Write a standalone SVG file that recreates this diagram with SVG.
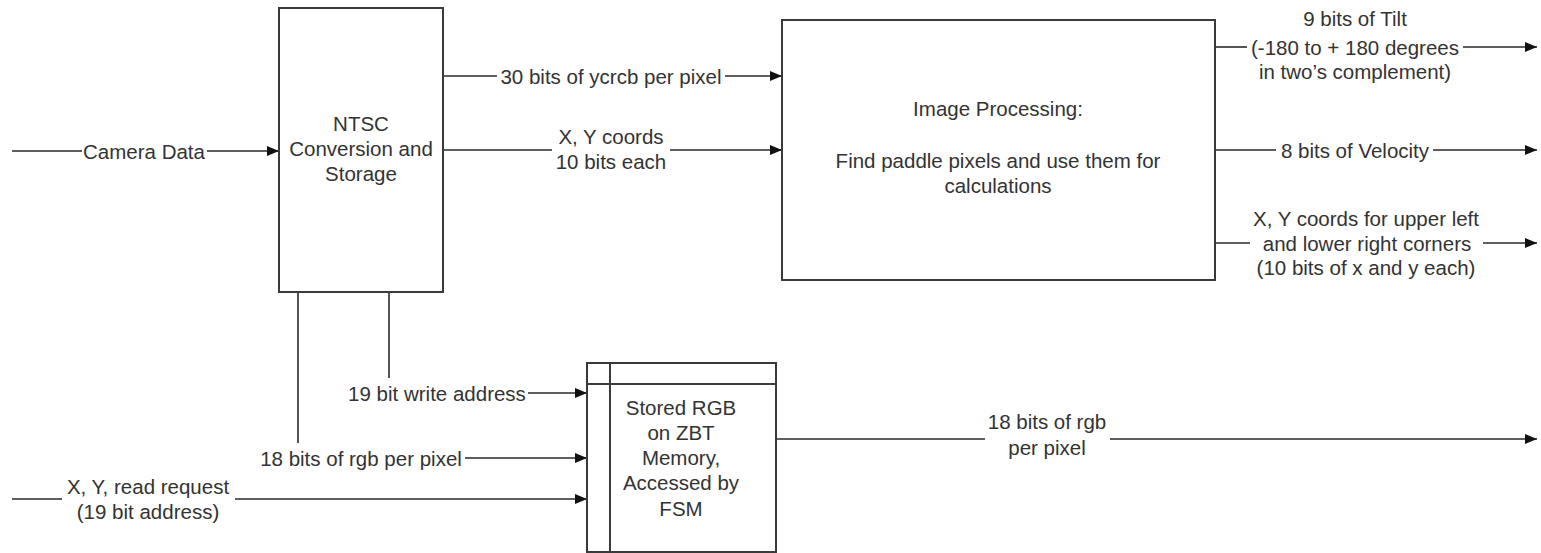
<svg xmlns="http://www.w3.org/2000/svg" width="1541" height="553" viewBox="0 0 1541 553">
<style>
.box{fill:#fff;stroke:#3a3a3a;stroke-width:2}
.ln{fill:none;stroke:#2a2a2a;stroke-width:1.6}
text{font-family:"Liberation Sans",Arial,sans-serif;font-size:20.5px;fill:#333;text-anchor:middle;dominant-baseline:central}
</style>
<defs>
<marker id="ah" viewBox="0 0 12 10" refX="12" refY="5" markerWidth="12" markerHeight="10" markerUnits="userSpaceOnUse" orient="auto">
<path d="M0,0 L12,5 L0,10 Z" fill="#111"/>
</marker>
</defs>
<rect width="1541" height="553" fill="#fff"/>
<g id="connectors">
<line class="ln" x1="12" y1="151" x2="82" y2="151"/>
<line class="ln" x1="207" y1="151" x2="279" y2="151" marker-end="url(#ah)"/>
<line class="ln" x1="443" y1="76" x2="497" y2="76"/>
<line class="ln" x1="725" y1="76" x2="782" y2="76" marker-end="url(#ah)"/>
<line class="ln" x1="443" y1="150" x2="552" y2="150"/>
<line class="ln" x1="670" y1="150" x2="782" y2="150" marker-end="url(#ah)"/>
<line class="ln" x1="1215" y1="47" x2="1247" y2="47"/>
<line class="ln" x1="1463" y1="47" x2="1537" y2="47" marker-end="url(#ah)"/>
<line class="ln" x1="1215" y1="150" x2="1276" y2="150"/>
<line class="ln" x1="1433" y1="150" x2="1537" y2="150" marker-end="url(#ah)"/>
<line class="ln" x1="1215" y1="243" x2="1250" y2="243"/>
<line class="ln" x1="1483" y1="243" x2="1537" y2="243" marker-end="url(#ah)"/>
<line class="ln" x1="389" y1="292" x2="389" y2="378"/>
<line class="ln" x1="528" y1="393" x2="587" y2="393" marker-end="url(#ah)"/>
<line class="ln" x1="298" y1="292" x2="298" y2="443"/>
<line class="ln" x1="465" y1="458" x2="587" y2="458" marker-end="url(#ah)"/>
<line class="ln" x1="12" y1="499" x2="62" y2="499"/>
<line class="ln" x1="235" y1="499" x2="587" y2="499" marker-end="url(#ah)"/>
<line class="ln" x1="776" y1="439" x2="985" y2="439"/>
<line class="ln" x1="1110" y1="439" x2="1537" y2="439" marker-end="url(#ah)"/>
<text x="144" y="151">Camera Data</text>
<text x="611" y="76">30 bits of ycrcb per pixel</text>
<text x="611" y="136">X, Y coords</text>
<text x="611" y="161">10 bits each</text>
<text x="1355" y="18">9 bits of Tilt</text>
<text x="1355" y="47">(-180 to + 180 degrees</text>
<text x="1355" y="71">in two’s complement)</text>
<text x="1355" y="150">8 bits of Velocity</text>
<text x="1366" y="218">X, Y coords for upper left</text>
<text x="1367" y="243">and lower right corners</text>
<text x="1366" y="267">(10 bits of x and y each)</text>
<text x="437" y="393">19 bit write address</text>
<text x="361" y="458">18 bits of rgb per pixel</text>
<text x="148" y="486">X, Y, read request</text>
<text x="148" y="511">(19 bit address)</text>
<text x="1047" y="421">18 bits of rgb</text>
<text x="1047" y="447">per pixel</text>
</g>
<g id="ntsc">
<rect class="box" x="279" y="8" width="164" height="284"/>
<text x="361" y="123">NTSC</text>
<text x="361" y="148">Conversion and</text>
<text x="361" y="173">Storage</text>
</g>
<g id="image-processing">
<rect class="box" x="782" y="20" width="433" height="260"/>
<text x="998" y="108">Image Processing:</text>
<text x="998" y="160">Find paddle pixels and use them for</text>
<text x="998" y="185">calculations</text>
</g>
<g id="zbt">
<rect class="box" x="587" y="363" width="189" height="189"/>
<line class="box" x1="587" y1="384" x2="776" y2="384"/>
<line class="box" x1="610" y1="363" x2="610" y2="552"/>
<text x="681" y="407">Stored RGB</text>
<text x="681" y="432">on ZBT</text>
<text x="681" y="457">Memory,</text>
<text x="681" y="482">Accessed by</text>
<text x="681" y="508">FSM</text>
</g>
</svg>
